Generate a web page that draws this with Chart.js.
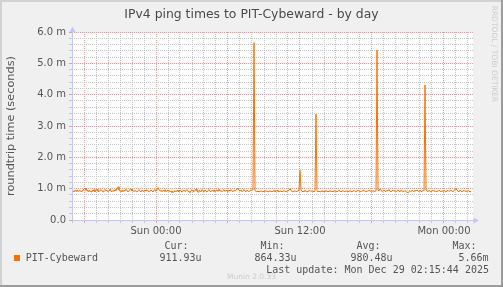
<!DOCTYPE html>
<html><head><meta charset="utf-8">
<script src="https://cdn.jsdelivr.net/npm/chart.js@4"></script>
<style>
html,body{margin:0;padding:0;background:#f0f0f0;overflow:hidden}
#wrap{position:relative;width:503px;height:287px}
canvas{display:block}
</style>
</head><body><div id="wrap"><canvas id="c" width="503" height="287"></canvas></div>
<script>
// ---------- data ----------
const chartTitle = 'IPv4 ping times to PIT-Cybeward - by day';
const yAxisTitle = 'roundtrip time (seconds)';
const seriesName = 'PIT-Cybeward';
const firstSampleHour = -6 - 11 / 12;   // hours relative to Sun 00:00
const sampleStepHours = 5 / 60;         // 5-minute samples
const pingMs = [
  0.93,0.90,0.95,0.92,0.96,0.91,0.94,0.95,0.90,0.93,0.96,0.98,1.02,0.95,0.97,0.91,0.96,0.93,0.90,0.95,
  0.92,0.97,0.90,0.95,0.98,0.92,0.90,0.94,0.97,0.93,0.90,0.94,0.98,0.93,0.95,0.90,0.94,0.99,0.92,0.90,
  0.95,0.92,0.97,0.94,0.99,1.06,0.96,0.93,0.91,0.96,0.90,0.95,0.92,0.98,0.93,0.90,0.94,0.97,0.99,0.93,
  0.94,0.90,0.95,0.92,0.89,0.94,0.97,0.92,0.90,0.95,0.93,0.90,0.96,0.92,0.97,0.93,0.89,0.92,0.96,0.92,
  0.90,0.95,0.97,0.92,0.98,1.03,0.96,0.93,0.95,0.90,0.95,0.92,0.97,0.90,0.94,0.96,0.91,0.94,0.89,0.93,
  0.87,0.91,0.94,0.90,0.95,0.92,0.90,0.96,0.93,0.89,0.94,0.96,0.91,0.93,0.97,0.92,0.90,0.88,0.94,0.96,
  0.92,0.90,0.95,0.98,0.92,0.89,0.95,0.93,0.90,0.97,0.93,0.90,0.96,0.92,0.89,0.94,0.97,0.92,0.90,0.95,
  0.92,0.97,0.90,0.94,0.96,0.91,0.98,0.92,0.95,0.90,0.94,0.97,0.91,0.95,0.93,0.90,0.96,0.92,0.97,0.93,
  0.90,0.95,0.92,0.96,0.98,1.01,0.95,0.92,0.96,0.90,0.94,0.97,0.92,0.90,0.95,0.93,0.90,0.94,0.96,0.95,
  0.97,5.66,0.94,0.91,0.90,0.92,0.90,0.91,0.93,0.91,0.90,0.92,0.94,0.91,0.93,0.90,0.92,0.93,0.91,0.90,
  0.92,0.94,0.90,0.92,0.95,0.91,0.90,0.93,0.92,0.90,0.92,0.94,0.91,0.90,0.93,0.92,0.97,1.00,0.94,0.91,
  0.90,0.92,0.94,0.90,0.92,0.93,0.95,1.59,0.96,0.92,0.90,0.92,0.95,0.91,0.90,0.93,0.92,0.95,0.91,0.93,
  0.92,0.90,0.93,3.38,0.93,0.90,0.92,0.90,0.92,0.93,0.91,0.90,0.92,0.94,0.92,0.90,0.92,0.93,0.91,0.92,
  0.90,0.92,0.94,0.91,0.90,0.92,0.95,0.92,0.90,0.92,0.94,0.91,0.90,0.93,0.92,0.90,0.92,0.94,0.91,0.90,
  0.92,0.95,0.91,0.90,0.93,0.96,0.93,0.91,0.90,0.94,0.92,0.95,0.91,0.90,0.93,0.92,0.95,0.93,0.91,0.93,
  0.92,0.93,0.90,0.95,5.42,0.96,0.93,0.99,0.94,0.91,0.93,0.96,0.92,0.90,0.95,0.93,0.97,0.92,0.90,0.93,
  0.95,0.91,0.94,0.90,0.93,0.96,0.92,0.90,0.95,0.91,0.93,0.90,0.94,0.91,0.89,0.864,0.91,0.94,0.90,0.95,
  0.93,0.90,0.95,0.92,0.96,0.93,0.90,0.95,0.92,0.90,0.95,0.93,4.31,0.96,0.93,0.90,0.95,0.92,0.90,0.93,
  0.95,0.91,0.94,0.90,0.93,0.91,0.95,0.93,0.90,0.94,0.90,0.95,0.92,0.90,0.93,0.95,0.91,0.93,0.96,0.92,
  0.90,0.95,0.97,1.00,0.95,0.92,0.90,0.95,0.93,0.90,0.93,0.95,0.91,0.93,0.90,0.94,0.92,0.90,0.912
];
const xAxisMinHour = -7;
const xAxisMaxHour = 26 + 5 / 12;
const xTickHours = [0, 12, 24];
const xTickLabels = ['Sun 00:00', 'Sun 12:00', 'Mon 00:00'];
const yAxisMaxMs = 6;
const statHeads = ['Cur:', 'Min:', 'Avg:', 'Max:'];
const statValues = ['911.93u', '864.33u', '980.48u', '5.66m'];
const lastUpdate = 'Last update: Mon Dec 29 02:15:44 2025';
const watermarkMunin = 'Munin 2.0.33';
const watermarkRrd = 'RRDTOOL / TOBI OETIKER';

// ---------- styles ----------
const LINE_COLOR = '#ff7000';
const TEXT_COLOR = '#555555';
const MINOR_GRID = '#c8c8c8';
const MAJOR_GRID = '#f09a9a';
const AXIS_COLOR = '#c4c4ff';

const isInt = v => Math.abs(v - Math.round(v)) < 1e-6;

const points = pingMs.map((v, i) => ({ x: firstSampleHour + i * sampleStepHours, y: v }));

const framePlugin = {
  id: 'frame',
  beforeDraw(chart) {
    const { ctx, chartArea: a } = chart;
    ctx.save();
    ctx.fillStyle = '#f0f0f0';
    ctx.fillRect(0, 0, 503, 287);
    ctx.fillStyle = '#d2d2d2';
    ctx.fillRect(0, 0, 503, 2);
    ctx.fillRect(0, 0, 2, 287);
    ctx.fillStyle = '#9c9c9c';
    ctx.fillRect(0, 285, 503, 2);
    ctx.fillRect(501, 0, 2, 287);
    ctx.fillStyle = '#ffffff';
    ctx.fillRect(a.left, a.top, a.right - a.left, a.bottom - a.top);
    ctx.restore();
  },
  afterDatasetsDraw(chart) {
    const { ctx, chartArea: a } = chart;
    ctx.save();
    ctx.strokeStyle = AXIS_COLOR;
    ctx.fillStyle = AXIS_COLOR;
    ctx.lineWidth = 1;
    const ax = a.left + 0.5, ay = a.bottom + 0.5;
    ctx.beginPath();
    ctx.moveTo(ax, ay); ctx.lineTo(ax, a.top - 1);
    ctx.moveTo(a.left, ay); ctx.lineTo(a.right + 1, ay);
    ctx.stroke();
    ctx.beginPath();
    ctx.moveTo(ax, a.top - 5.5); ctx.lineTo(ax - 3, a.top); ctx.lineTo(ax + 3, a.top); ctx.closePath();
    ctx.fill();
    ctx.beginPath();
    ctx.moveTo(a.right + 6, ay); ctx.lineTo(a.right + 0.5, ay - 3); ctx.lineTo(a.right + 0.5, ay + 3); ctx.closePath();
    ctx.fill();
    ctx.restore();
  },
  afterDraw(chart) {
    const { ctx } = chart;
    ctx.save();
    // title
    ctx.fillStyle = '#4a4a4a';
    ctx.font = '12.4px "DejaVu Sans"';
    ctx.textAlign = 'center';
    ctx.textBaseline = 'alphabetic';
    ctx.fillText(chartTitle, 251.5, 18.3);
    // legend
    ctx.textAlign = 'left';
    ctx.fillStyle = LINE_COLOR;
    ctx.fillRect(14, 255, 6, 6);
    ctx.fillStyle = TEXT_COLOR;
    ctx.font = '10px "DejaVu Sans Mono"';
    ctx.fillText(seriesName, 25.7, 261);
    const headX = [164.4, 260.4, 356.4, 452.4];
    const valX = [159.4, 254.4, 350.4, 458.4];
    statHeads.forEach((h, i) => ctx.fillText(h, headX[i], 248.6));
    statValues.forEach((v, i) => ctx.fillText(v, valX[i], 261));
    ctx.fillText(lastUpdate, 266.2, 272.7);
    // watermarks
    ctx.fillStyle = '#cccccc';
    ctx.font = '7.5px "DejaVu Sans"';
    ctx.fillText(watermarkMunin, 227, 279);
    ctx.translate(492, 5.7);
    ctx.rotate(Math.PI / 2);
    ctx.fillText(watermarkRrd, 0, 0);
    ctx.restore();
  }
};

new Chart(document.getElementById('c'), {
  type: 'line',
  data: {
    datasets: [{
      label: seriesName,
      data: points,
      borderColor: LINE_COLOR,
      borderWidth: 1,
      pointRadius: 0,
      tension: 0,
      fill: false
    }]
  },
  options: {
    responsive: false,
    animation: false,
    devicePixelRatio: 1,
    events: [],
    layout: { padding: { left: 0, top: 32, right: 30, bottom: 0 } },
    plugins: { legend: { display: false }, tooltip: { enabled: false }, title: { display: false } },
    scales: {
      x: {
        type: 'linear',
        position: 'bottom',
        min: xAxisMinHour,
        max: xAxisMaxHour,
        afterFit: s => { s.height = 67; },
        border: { display: false, dash: [1, 1] },
        grid: {
          color: c => !isInt(c.tick.value) ? 'rgba(0,0,0,0)' :
            (((Math.round(c.tick.value) % 6) + 6) % 6 === 0 ? MAJOR_GRID : MINOR_GRID),
          tickLength: 3,
          drawTicks: true
        },
        ticks: {
          stepSize: 1,
          autoSkip: false,
          maxRotation: 0,
          minRotation: 0,
          includeBounds: false,
          padding: 2,
          color: TEXT_COLOR,
          font: { family: 'DejaVu Sans', size: 10 },
          callback: v => {
            if (!isInt(v)) return '';
            const k = xTickHours.indexOf(Math.round(v));
            return k >= 0 ? xTickLabels[k] : '';
          }
        }
      },
      y: {
        min: 0,
        max: yAxisMaxMs,
        afterFit: s => { s.width = 72; },
        border: { display: false, dash: [1, 1] },
        grid: {
          color: c => isInt(c.tick.value) ? MAJOR_GRID : MINOR_GRID,
          tickLength: 3,
          drawTicks: true
        },
        ticks: {
          stepSize: 0.2,
          autoSkip: false,
          padding: 3,
          color: TEXT_COLOR,
          font: { family: 'DejaVu Sans', size: 10 },
          callback: v => isInt(v) ? (Math.round(v) === 0 ? '0.0' : Math.round(v).toFixed(1) + ' m') : ''
        },
        title: {
          display: true,
          text: yAxisTitle,
          color: TEXT_COLOR,
          font: { family: 'DejaVu Sans', size: 11.3 },
          padding: { top: 4.7, bottom: 0 }
        }
      }
    }
  },
  plugins: [framePlugin]
});
</script>
</body></html>
